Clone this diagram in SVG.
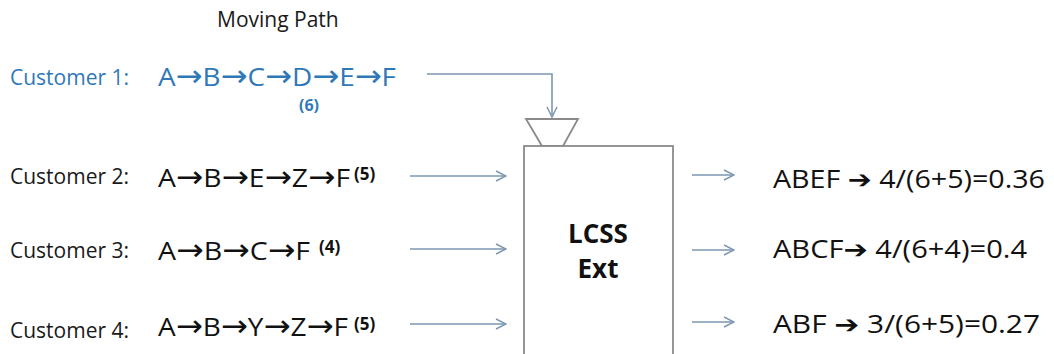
<svg xmlns="http://www.w3.org/2000/svg" width="1054" height="354" viewBox="0 0 1054 354">
<style>
text{font-family:"Open Sans","Noto Sans","DejaVu Sans",sans-serif;}
.lbl{font-size:21px;fill:#1a1a1a;}
.path{font-size:26px;fill:#111;}
.ar{font-family:"DejaVu Sans",sans-serif;font-size:30px;}
.sup{font-size:17px;font-weight:bold;fill:#111;}
.blue{fill:#2f78b8;}
.res{font-size:25px;fill:#111;}
.conn{stroke:#7d97b0;stroke-width:1.6;fill:none;}
.box{stroke:#8a8a8a;stroke-width:1.8;fill:#fff;}
</style>
<defs>
<marker id="open" viewBox="0 0 12 12" refX="11" refY="6" markerWidth="12" markerHeight="12" markerUnits="userSpaceOnUse" orient="auto">
<path d="M1,1 L11,6 L1,11" fill="none" stroke="#7d97b0" stroke-width="1.5"/>
</marker>
</defs>
<rect width="1054" height="354" fill="#fff"/>
<text x="217" y="27" class="lbl">Moving Path</text>
<g id="customer1">
<text x="10" y="85" class="lbl blue">Customer 1:</text>
<text x="158" y="86" class="path blue" textLength="238" lengthAdjust="spacingAndGlyphs">A<tspan class="ar">→</tspan>B<tspan class="ar">→</tspan>C<tspan class="ar">→</tspan>D<tspan class="ar">→</tspan>E<tspan class="ar">→</tspan>F</text>
<text x="309" y="111" class="blue" text-anchor="middle" style="font-size:16px;font-weight:bold">(6)</text>
</g>
<g id="customer2">
<text x="10" y="184" class="lbl">Customer 2:</text>
<text x="158" y="187" class="path" textLength="192" lengthAdjust="spacingAndGlyphs">A<tspan class="ar">→</tspan>B<tspan class="ar">→</tspan>E<tspan class="ar">→</tspan>Z<tspan class="ar">→</tspan>F</text>
<text x="354" y="180" class="sup">(5)</text>
</g>
<g id="customer3">
<text x="10" y="258" class="lbl">Customer 3:</text>
<text x="158" y="260" class="path" textLength="152" lengthAdjust="spacingAndGlyphs">A<tspan class="ar">→</tspan>B<tspan class="ar">→</tspan>C<tspan class="ar">→</tspan>F</text>
<text x="319" y="253" class="sup">(4)</text>
</g>
<g id="customer4">
<text x="10" y="338" class="lbl">Customer 4:</text>
<text x="158" y="336" class="path" textLength="190" lengthAdjust="spacingAndGlyphs">A<tspan class="ar">→</tspan>B<tspan class="ar">→</tspan>Y<tspan class="ar">→</tspan>Z<tspan class="ar">→</tspan>F</text>
<text x="354" y="330" class="sup">(5)</text>
</g>
<g id="lcss">
<polygon points="526,119 578,119 563,146 542,146" class="box"/>
<rect x="524" y="146" width="149" height="220" class="box"/>
<text x="598" y="243" text-anchor="middle" style="font-size:26px;font-weight:bold;fill:#111">LCSS</text>
<text x="598" y="278" text-anchor="middle" style="font-size:26px;font-weight:bold;fill:#111">Ext</text>
</g>
<g id="results">
<text x="773" y="188" class="res" textLength="272" lengthAdjust="spacingAndGlyphs">ABEF ➔ 4/(6+5)=0.36</text>
<text x="773" y="258" class="res" textLength="254" lengthAdjust="spacingAndGlyphs">ABCF➔ 4/(6+4)=0.4</text>
<text x="773" y="333" class="res" textLength="267" lengthAdjust="spacingAndGlyphs">ABF  ➔ 3/(6+5)=0.27</text>
</g>
<g id="connectors">
<path d="M427,74 H552 V117" class="conn" marker-end="url(#open)"/>
<line x1="410" y1="176" x2="506" y2="176" class="conn" marker-end="url(#open)"/>
<line x1="410" y1="249" x2="506" y2="249" class="conn" marker-end="url(#open)"/>
<line x1="410" y1="324" x2="506" y2="324" class="conn" marker-end="url(#open)"/>
<line x1="692" y1="175" x2="734" y2="175" class="conn" marker-end="url(#open)"/>
<line x1="692" y1="250" x2="734" y2="250" class="conn" marker-end="url(#open)"/>
<line x1="692" y1="322" x2="734" y2="322" class="conn" marker-end="url(#open)"/>
</g>
</svg>
